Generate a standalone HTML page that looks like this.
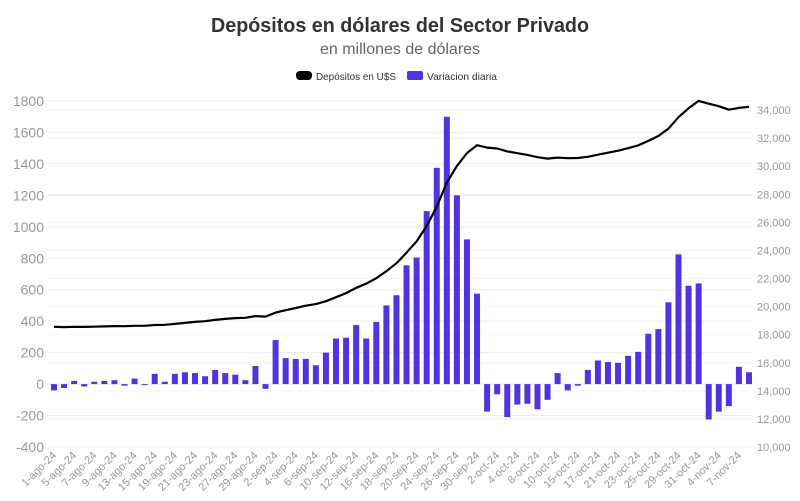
<!DOCTYPE html>
<html><head><meta charset="utf-8"><style>
body{margin:0;background:#fff;font-family:"Liberation Sans",sans-serif}
svg{display:block}
</style></head><body>
<svg id="chart" width="800" height="501" viewBox="0 0 800 501" xmlns="http://www.w3.org/2000/svg">
<text x="400" y="32" text-anchor="middle" font-size="20" font-weight="bold" fill="#333" textLength="378" lengthAdjust="spacingAndGlyphs">Depósitos en dólares del Sector Privado</text>
<text x="400" y="54" text-anchor="middle" font-size="16" fill="#666">en millones de dólares</text>
<g>
<g><rect x="296" y="71" width="16" height="9" rx="4" fill="#000"/><text x="316" y="80" font-size="10.5" fill="#333" textLength="80" lengthAdjust="spacingAndGlyphs">Depósitos en U$S</text></g>
<g><rect x="407" y="71" width="16" height="9" rx="2" fill="#4f35e0"/><text x="427" y="80" font-size="10.5" fill="#333" textLength="70" lengthAdjust="spacingAndGlyphs">Variacion diaria</text></g>
</g>
<g id="grid"></g><g id="axes"></g><g id="bars"></g><g id="line"></g>
</svg>
<script>
const categories=["1-ago-24","2-ago-24","5-ago-24","6-ago-24","7-ago-24","8-ago-24","9-ago-24","12-ago-24","13-ago-24","14-ago-24","15-ago-24","16-ago-24","19-ago-24","20-ago-24","21-ago-24","22-ago-24","23-ago-24","26-ago-24","27-ago-24","28-ago-24","29-ago-24","30-ago-24","2-sep-24","3-sep-24","4-sep-24","5-sep-24","6-sep-24","9-sep-24","10-sep-24","11-sep-24","12-sep-24","13-sep-24","16-sep-24","17-sep-24","18-sep-24","19-sep-24","20-sep-24","23-sep-24","24-sep-24","25-sep-24","26-sep-24","27-sep-24","30-sep-24","1-oct-24","2-oct-24","3-oct-24","4-oct-24","7-oct-24","8-oct-24","9-oct-24","10-oct-24","14-oct-24","15-oct-24","16-oct-24","17-oct-24","18-oct-24","21-oct-24","22-oct-24","23-oct-24","24-oct-24","25-oct-24","28-oct-24","29-oct-24","30-oct-24","31-oct-24","1-nov-24","4-nov-24","5-nov-24","7-nov-24","8-nov-24"];
const variacion=[-40,-25,20,-15,15,20,25,-10,35,-5,65,15,65,75,70,50,90,70,60,25,115,-30,280,165,160,160,120,200,290,295,375,290,395,500,565,755,805,1100,1375,1700,1200,920,575,-175,-65,-210,-130,-125,-160,-100,70,-40,-10,90,150,140,135,180,205,320,350,520,825,625,640,-225,-175,-140,110,75];
const depositos=[18560,18540,18560,18550,18570,18590,18610,18600,18630,18630,18690,18700,18770,18840,18910,18960,19050,19120,19180,19200,19320,19290,19570,19740,19900,20060,20180,20380,20670,20960,21340,21630,22020,22520,23090,23840,24640,25740,27120,28820,30020,30940,31490,31320,31260,31050,30920,30800,30640,30540,30610,30570,30580,30670,30820,30960,31100,31280,31480,31800,32150,32670,33490,34120,34650,34450,34270,34020,34150,34230];
const leftTicks=[-400,-200,0,200,400,600,800,1000,1200,1400,1600,1800];
const rightTicks=[10000,12000,14000,16000,18000,20000,22000,24000,26000,28000,30000,32000,34000];
const NS="http://www.w3.org/2000/svg";
const yL=v=>447-(v+400)*(346/2200);
const yR=v=>447-(v-10000)*(337/24000);
const xB=i=>54+i*(695/(categories.length-1));
function mk(t,a,p){const e=document.createElementNS(NS,t);for(const k in a)e.setAttribute(k,a[k]);p.appendChild(e);return e;}
const grid=document.getElementById('grid'),axes=document.getElementById('axes'),bars=document.getElementById('bars'),line=document.getElementById('line');
leftTicks.forEach(v=>{const y=yL(v);
const g=mk('line',{x1:48,x2:752,y1:y,y2:y,stroke:'#ececec','stroke-width':1},grid);


const t=mk('text',{x:44,y:y+5,'text-anchor':'end','font-size':14,fill:'#999'},axes);t.textContent=v;

});
rightTicks.forEach(v=>{const y=yR(v);
const g=mk('line',{x1:48,x2:752,y1:y,y2:y,stroke:'#f4f4f4','stroke-width':1},grid);


const t=mk('text',{x:757,y:y+4,'font-size':11,fill:'#999'},axes);t.textContent=v.toLocaleString('en-US');

});
categories.forEach((c,i)=>{if(i%2)return;const x=xB(i)+3;
const t=mk('text',{x:x,y:456,'text-anchor':'end','font-size':11,fill:'#999',transform:`rotate(-45 ${x} 456)`},axes);t.textContent=c;

});
variacion.forEach((v,i)=>{const y0=yL(0),y1=yL(v);
const r=mk('rect',{x:xB(i)-3,y:Math.min(y0,y1),width:6,height:Math.max(1,Math.abs(y1-y0)),fill:'#4f35e0'},bars);

});
const p=mk('path',{d:depositos.map((v,i)=>(i?'L':'M')+xB(i).toFixed(1)+' '+yR(v).toFixed(1)).join(' '),fill:'none',stroke:'#000','stroke-width':2.2,'stroke-linejoin':'round'},line);


</script>
</body></html>
